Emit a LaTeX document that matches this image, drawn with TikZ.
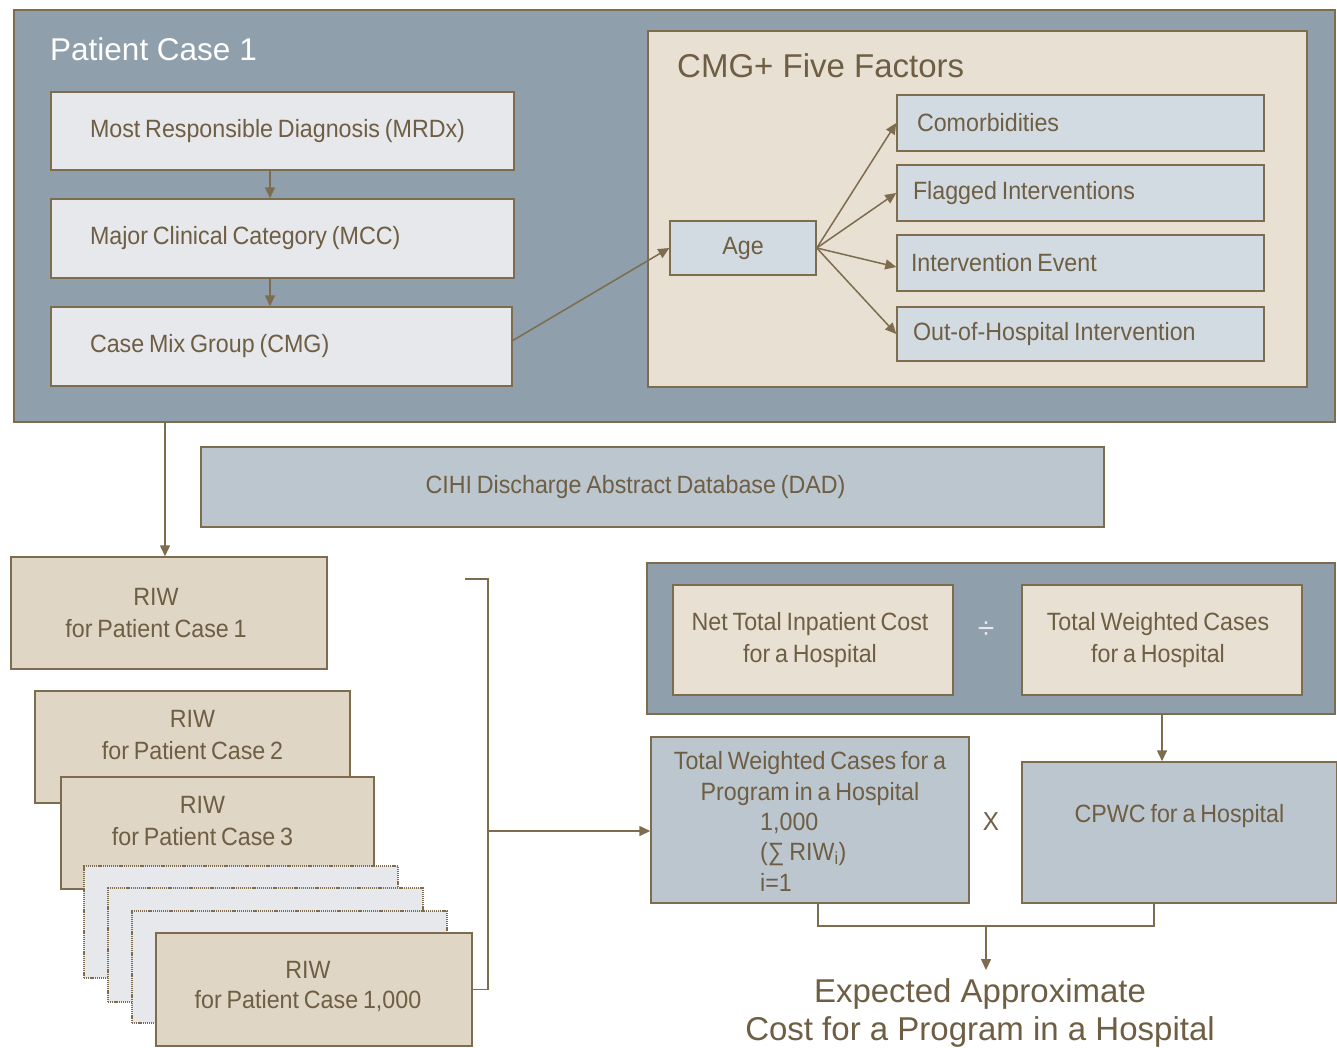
\documentclass[tikz,border=0pt]{standalone}
\usepackage{fontspec}
\setmainfont{Liberation Sans}
\newfontfamily\cond{Liberation Sans}[FakeStretch=0.93,WordSpace=0.75]
\usetikzlibrary{arrows.meta}
\definecolor{brd}{HTML}{7D6C4E}
\definecolor{txt}{HTML}{6E5E43}
\definecolor{slate}{HTML}{8F9FAB}
\definecolor{pale}{HTML}{E6E8EC}
\definecolor{cream}{HTML}{E8E0D3}
\definecolor{ice}{HTML}{D3DBE2}
\definecolor{steel}{HTML}{BCC6CF}
\definecolor{tanbox}{HTML}{E0D6C5}
\begin{document}
\begin{tikzpicture}[x=1pt,y=-1pt,
 bx/.style={draw=brd, line width=1.5pt, inner sep=0pt, text=txt, font=\cond\fontsize{25}{32}\selectfont},
 arr/.style={draw=brd, line width=1.5pt, -{Triangle[length=11pt,width=10pt]}},
 ln/.style={draw=brd, line width=1.5pt},
 lbl/.style={inner sep=0pt, text=txt, font=\cond\fontsize{25}{32}\selectfont, align=center},
 big/.style={inner sep=0pt, text=txt, font=\fontsize{33}{38}\selectfont, align=center},
 dotbox/.style={bx, fill=pale, line width=2pt, dash pattern=on 1.2pt off 0.9pt},
]
\useasboundingbox (0,0) rectangle (1337,1047);
\fill[white] (0,0) rectangle (1337,1047);

% ---------- Patient Case 1 panel ----------
\node[bx, fill=slate, minimum width=1321, minimum height=412] (pc) at (674.5,216) {};
\node[anchor=west, inner sep=0pt, text=white, font=\fontsize{31.5}{36}\selectfont] (pctitle) at (50,49) {Patient Case 1};

\node[bx, fill=pale, minimum height=78] (mrdx) at (282.5,131) {\makebox[463pt][l]{\hspace*{39pt}Most Responsible Diagnosis (MRDx)}};
\node[bx, fill=pale, minimum height=79] (mcc) at (282.5,238.5) {\makebox[463pt][l]{\hspace*{39pt}Major Clinical Category (MCC)}};
\node[bx, fill=pale, minimum height=79] (cmg) at (281.5,346.5) {\makebox[461pt][l]{\hspace*{39pt}Case Mix Group (CMG)}};

\draw[arr] ([xshift=-12.5pt]mrdx.south) -- ([xshift=-12.5pt]mcc.north);
\draw[arr] ([xshift=-12.5pt]mcc.south) -- ([xshift=-11.5pt]cmg.north);

% CMG+ Five Factors
\node[bx, fill=cream, minimum width=659, minimum height=356] (five) at (977.5,209) {};
\node[anchor=west, inner sep=0pt, text=txt, font=\fontsize{33}{38}\selectfont] (fivetitle) at (677,66) {CMG+ Five Factors};

\node[bx, fill=ice, minimum width=146, minimum height=54] (age) at (743,248) {Age};
\node[bx, fill=ice, minimum height=56] (como) at (1080.5,123) {\makebox[367pt][l]{\hspace*{20pt}Comorbidities}};
\node[bx, fill=ice, minimum height=56] (flag) at (1080.5,193) {\makebox[367pt][l]{\hspace*{16pt}Flagged Interventions}};
\node[bx, fill=ice, minimum height=56] (ievent) at (1080.5,263) {\makebox[367pt][l]{\hspace*{14pt}Intervention Event}};
\node[bx, fill=ice, minimum height=54] (ooh) at (1080.5,334) {\makebox[367pt][l]{\hspace*{16pt}Out-of-Hospital Intervention}};

\draw[arr] ([yshift=6pt]cmg.east) -- (age.west);
\draw[arr] (age.east) -- (como.west);
\draw[arr] (age.east) -- (flag.west);
\draw[arr] (age.east) -- ([yshift=-4pt]ievent.west);
\draw[arr] (age.east) -- (ooh.west);

% ---------- DAD ----------
\node[bx, fill=steel, minimum width=903, minimum height=80] (dad) at (652.5,487) {\hspace*{-34pt}CIHI Discharge Abstract Database (DAD)};

% ---------- RIW stack ----------
\node[bx, fill=tanbox, minimum width=316, minimum height=112] (riw1) at (169,613) {};
\node[lbl] (riw1t) at ([xshift=-13pt]riw1.center) {RIW\\for Patient Case 1};
\node[bx, fill=tanbox, minimum width=315, minimum height=112] (riw2) at (192.5,747) {};
\node[lbl] (riw2t) at ([yshift=12pt]riw2.center) {RIW\\for Patient Case 2};
\node[bx, fill=tanbox, minimum width=313, minimum height=112] (riw3) at (217.5,833) {};
\node[lbl] (riw3t) at ([xshift=-15pt,yshift=12pt]riw3.center) {RIW\\for Patient Case 3};
\node[dotbox, minimum width=314, minimum height=112] (d1) at (241,922) {};
\node[dotbox, minimum width=315, minimum height=114] (d2) at (265.5,945) {};
\node[dotbox, minimum width=315, minimum height=112] (d3) at (289.5,967) {};
\node[bx, fill=tanbox, minimum width=316, minimum height=113] (riwn) at (314,989.5) {};
\node[lbl, font=\cond\fontsize{25}{30}\selectfont] (riwnt) at ([xshift=-6pt,yshift=3pt]riwn.center) {RIW\\for Patient Case 1,000};

\draw[arr] ([xshift=-4pt]riw1.north |- pc.south) -- ([xshift=-4pt]riw1.north);

% bracket
\coordinate (bt) at (465,579);
\coordinate (bm) at (488,831);
\draw[ln] (bt) -- (bt -| bm) -- (bm |- riwn.east) -- (riwn.east);

% ---------- CPWC panel ----------
\node[bx, fill=slate, minimum width=688, minimum height=151] (cp) at (991,638.5) {};
\node[bx, fill=cream, minimum width=280, minimum height=110, align=center] (net) at (813,640) {\hspace*{-6pt}Net Total Inpatient Cost\\\hspace*{-6pt}for a Hospital};
\node[bx, fill=cream, minimum width=280, minimum height=110, align=center] (twch) at (1162,640) {\hspace*{-8pt}Total Weighted Cases\\\hspace*{-8pt}for a Hospital};
\node[inner sep=0pt, text=pale, font=\fontsize{30}{32}\selectfont] (divide) at (986,630) {÷};

\node[bx, fill=steel, minimum width=318, minimum height=166] (twc) at (810,820) {};
\node[lbl, font=\cond\fontsize{25}{31}\selectfont] (twct) at ([yshift=41.5pt]twc.center) {Total Weighted Cases for a\\Program in a Hospital};
\node[lbl, anchor=west, align=left, font=\cond\fontsize{25}{30.5}\selectfont] (twcs) at ([xshift=-50pt,yshift=-32pt]twc.center) {1,000\\(∑ RIW\textsubscript{i})\\i=1};

\node[inner sep=0pt, text=txt, font=\cond\fontsize{26}{30}\selectfont] (times) at (991,822) {X};

\node[bx, fill=steel, minimum width=315, minimum height=141] (cpwc) at (1179.5,832.5) {};
\node[lbl] (cpwct) at ([yshift=16.5pt]cpwc.center) {CPWC for a Hospital};

\draw[arr] (cp.south -| twch.south) -- (cpwc.north -| twch.south);

% result
\node[big, anchor=north] (res) at (980,978) {Expected Approximate\\Cost for a Program in a Hospital};
\coordinate (jn) at (986,926);
\draw[ln] ([xshift=8pt]twc.south) -- ([xshift=8pt]twc.south |- jn) -- ([xshift=-25.5pt]cpwc.south |- jn) -- ([xshift=-25.5pt]cpwc.south);
\draw[arr] (jn) -- ([yshift=8pt]jn |- res.north);

\draw[arr] (bm) -- (twc.west |- bm);
\end{tikzpicture}
\end{document}
